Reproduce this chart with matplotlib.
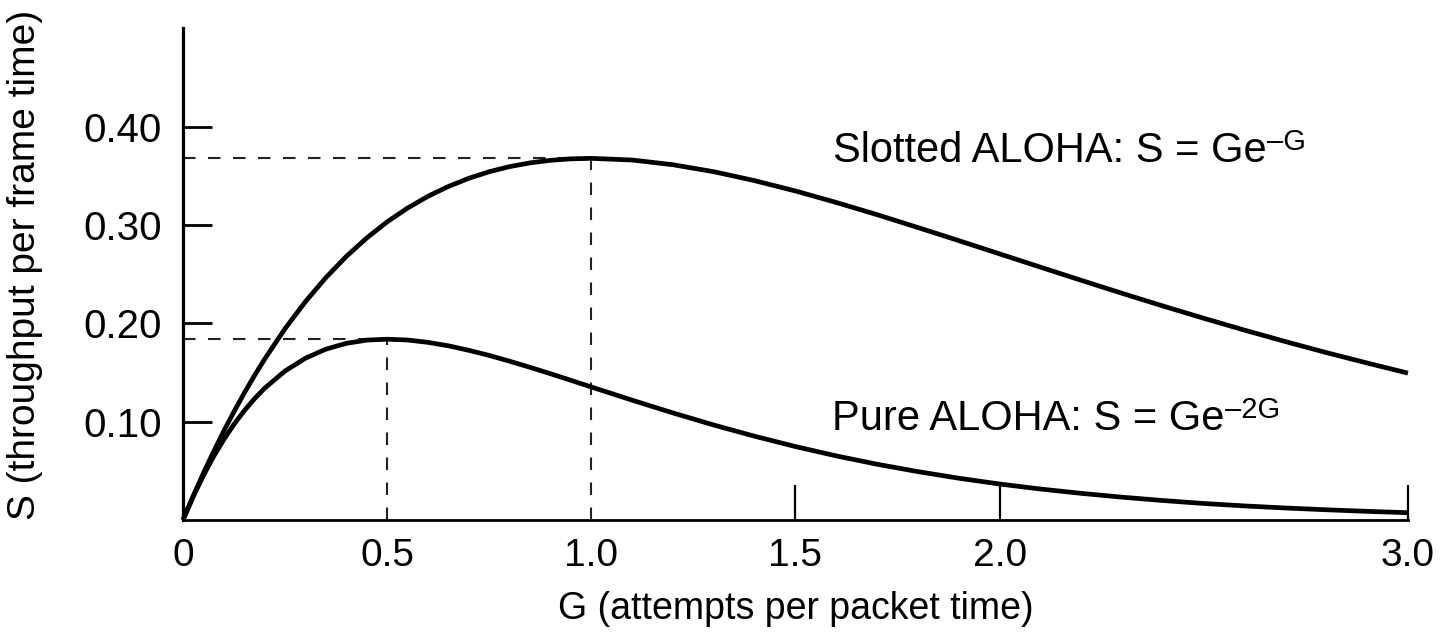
import matplotlib
matplotlib.use("Agg")
from matplotlib import pyplot as plt

plt.rcParams["font.family"] = ["Liberation Sans", "DejaVu Sans"]

# G values (attempts per packet time) read along the x axis
g_values = [0.0, 0.025, 0.05, 0.075, 0.1, 0.125, 0.15, 0.175, 0.2, 0.25,
            0.3, 0.35, 0.4, 0.45, 0.5, 0.55, 0.6, 0.65, 0.7, 0.75, 0.8,
            0.85, 0.9, 0.95, 1.0, 1.1, 1.2, 1.3, 1.4, 1.5, 1.6, 1.7, 1.8,
            1.9, 2.0, 2.1, 2.2, 2.3, 2.4, 2.5, 2.6, 2.7, 2.8, 2.9, 3.0]

# throughput
slotted_s = [0.0, 0.0244, 0.0476, 0.0696, 0.0905, 0.1103, 0.1291, 0.1469,
             0.1637, 0.1947, 0.2222, 0.2466, 0.2681, 0.2869, 0.3033, 0.3173,
             0.3293, 0.3393, 0.3476, 0.3543, 0.3595, 0.3633, 0.3659, 0.3674,
             0.3679, 0.3662, 0.3614, 0.3543, 0.3452, 0.3347, 0.3230, 0.3106,
             0.2975, 0.2842, 0.2707, 0.2572, 0.2438, 0.2306, 0.2177, 0.2052,
             0.1931, 0.1815, 0.1703, 0.1597, 0.1494]

# throughput
pure_s = [0.0, 0.0238, 0.0452, 0.0646, 0.0819, 0.0974, 0.1111, 0.1233,
          0.1341, 0.1516, 0.1646, 0.1738, 0.1797, 0.1830, 0.1839, 0.1831,
          0.1807, 0.1772, 0.1726, 0.1674, 0.1615, 0.1553, 0.1488, 0.1421,
          0.1353, 0.1219, 0.1089, 0.0966, 0.0852, 0.0747, 0.0652, 0.0567,
          0.0492, 0.0425, 0.0366, 0.0315, 0.0271, 0.0232, 0.0198, 0.0168,
          0.0143, 0.0122, 0.0104, 0.0088, 0.0074]

# peaks marked with dashed guides
slotted_peak = (1.0, 0.368)
pure_peak = (0.5, 0.184)

x_ticks = [0, 0.5, 1.0, 1.5, 2.0, 3.0]
x_tick_labels = ["0", "0.5", "1.0", "1.5", "2.0", "3.0"]
y_ticks = [0.10, 0.20, 0.30, 0.40]
y_tick_labels = ["0.10", "0.20", "0.30", "0.40"]

fig = plt.figure(figsize=(14.5, 6.36), dpi=100)
ax = fig.add_axes([0.1262, 0.1824, 0.8448, 0.7728])

ax.plot(g_values, slotted_s, color="black", lw=3.4, clip_on=False,
        solid_capstyle="butt", solid_joinstyle="round", zorder=3)
ax.plot(g_values, pure_s, color="black", lw=3.4, clip_on=False,
        solid_capstyle="butt", solid_joinstyle="round", zorder=3)

# dashed guides to the maxima
for gx, sy in (slotted_peak, pure_peak):
    ax.plot([0, gx], [sy, sy], color="#222222", lw=1.5, dashes=(6, 6),
            clip_on=False)
    ax.plot([gx, gx], [0, sy], color="#222222", lw=1.5, dashes=(6, 6),
            clip_on=False)

ax.set_xlim(0, 3.0)
ax.set_ylim(0, 0.5)

ax.spines["top"].set_visible(False)
ax.spines["right"].set_visible(False)
ax.spines["left"].set_linewidth(2.3)
ax.spines["bottom"].set_linewidth(2.0)

ax.set_xticks(x_ticks)
ax.set_xticklabels(x_tick_labels)
ax.set_yticks(y_ticks)
ax.set_yticklabels(y_tick_labels)

ax.tick_params(axis="x", direction="in", length=25, width=1.6, pad=13,
               labelsize=28)
ax.tick_params(axis="y", direction="in", length=21, width=2.0, pad=15,
               labelsize=29)

# no tick marks at 0, 0.5 and 1.0
for t in ax.xaxis.get_major_ticks()[:3]:
    t.tick1line.set_visible(False)

ax.set_xlabel("G (attempts per packet time)", fontsize=27, labelpad=12)
fig.text(0.017, 0.583, "S (throughput per frame time)", rotation=90,
         ha="center", va="center", fontsize=28)

t1 = ax.text(1.592, 0.364, "Slotted ALOHA: S = Ge", fontsize=30,
             va="baseline", ha="left")
ax.annotate("\u2013G", xy=(1.0, 1.0), xycoords=t1, xytext=(0, 2),
            textcoords="offset points", fontsize=21, ha="left", va="top")
t2 = ax.text(1.59, 0.0915, "Pure ALOHA: S = Ge", fontsize=30,
             va="baseline", ha="left")
ax.annotate("\u20132G", xy=(1.0, 1.0), xycoords=t2, xytext=(0, 2),
            textcoords="offset points", fontsize=21, ha="left", va="top")

fig.savefig("out.png", dpi=100, facecolor="white")
